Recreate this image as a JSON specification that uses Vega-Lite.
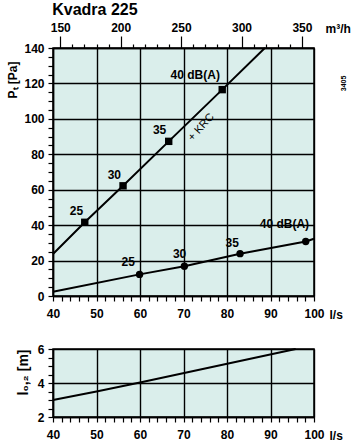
{
  "$schema": "https://vega.github.io/schema/vega-lite/v6.json",
  "padding": {"left": 6, "top": 2, "right": 0, "bottom": 0},
  "background": "white",
  "title": {"text": "Kvadra 225", "anchor": "start", "fontSize": 16, "font": "Liberation Sans", "fontWeight": "bold", "color": "black", "offset": 2, "dx": 46},
  "spacing": 21,
  "config": {
    "view": {"fill": "#daeeeb", "stroke": "black", "strokeWidth": 1.5},
    "axis": {"labelOverlap": false, "labelFont": "Liberation Sans", "labelFontWeight": "bold", "labelFontSize": 12, "labelColor": "black", "tickColor": "black", "domainColor": "black", "domainWidth": 1.5, "tickWidth": 1.2, "gridColor": "black", "gridWidth": 1.4, "titleFont": "Liberation Sans", "titleFontWeight": "bold", "titleFontSize": 12, "titleColor": "black"}
  },
  "datasets": {
    "lines": [
      {"s": "KRC", "q": 40, "p": 23.7}, {"s": "KRC", "q": 47.3, "p": 41.6}, {"s": "KRC", "q": 56.1, "p": 62.2}, {"s": "KRC", "q": 66.6, "p": 87.3}, {"s": "KRC", "q": 78.9, "p": 116.5}, {"s": "KRC", "q": 88.7, "p": 140},
      {"s": "base", "q": 40, "p": 2.4}, {"s": "base", "q": 59.9, "p": 12.2}, {"s": "base", "q": 70.2, "p": 16.8}, {"s": "base", "q": 83.0, "p": 23.9}, {"s": "base", "q": 98.1, "p": 30.8}, {"s": "base", "q": 100, "p": 32.3}
    ],
    "markers": [
      {"s": "KRC", "q": 47.3, "p": 41.6}, {"s": "KRC", "q": 56.1, "p": 62.2}, {"s": "KRC", "q": 66.6, "p": 87.3}, {"s": "KRC", "q": 78.9, "p": 116.5},
      {"s": "base", "q": 59.9, "p": 12.2}, {"s": "base", "q": 70.2, "p": 16.8}, {"s": "base", "q": 83.0, "p": 23.9}, {"s": "base", "q": 98.1, "p": 30.8}
    ],
    "labels": [
      {"label": "25", "q": 45.4, "p": 48.0}, {"label": "30", "q": 54.1, "p": 68.3}, {"label": "35", "q": 64.5, "p": 93.7}, {"label": "40 dB(A)", "q": 72.7, "p": 125.0},
      {"label": "25", "q": 57.3, "p": 19.0}, {"label": "30", "q": 69.1, "p": 23.7}, {"label": "35", "q": 81.2, "p": 29.8}, {"label": "40 dB(A)", "q": 93.2, "p": 40.5}
    ],
    "throw": [
      {"q": 40, "l": 3.0}, {"q": 50, "l": 3.5}, {"q": 60, "l": 4.03}, {"q": 95.8, "l": 6.0}
    ]
  },
  "vconcat": [
    {
      "width": 261,
      "height": 248,
      "resolve": {"scale": {"x": "independent"}, "axis": {"y": "independent"}},
      "layer": [
        {
          "data": {"name": "lines"},
          "mark": {"type": "line", "color": "black", "strokeWidth": 2},
          "encoding": {
            "x": {"field": "q", "type": "quantitative", "scale": {"domain": [40, 100], "nice": false, "zero": false},
              "axis": {"values": [40,42,44,46,48,50,52,54,56,58,60,62,64,66,68,70,72,74,76,78,80,82,84,86,88,90,92,94,96,98,100],
                "labelExpr": "datum.value % 10 === 0 ? datum.label : ''",
                "gridOpacity": {"condition": {"test": "datum.value % 10 === 0", "value": 1}, "value": 0},
                "tickSize": 5, "labelPadding": 7, "labelFlush": false,
                "title": "l/s", "titleX": 276, "titleY": 22, "titleAlign": "left", "titleBaseline": "alphabetic"}},
            "y": {"field": "p", "type": "quantitative", "scale": {"domain": [0, 140], "nice": false},
              "axis": {"values": [0,5,10,15,20,25,30,35,40,45,50,55,60,65,70,75,80,85,90,95,100,105,110,115,120,125,130,135,140],
                "labelExpr": "datum.value % 20 === 0 ? datum.label : ''",
                "gridOpacity": {"condition": {"test": "datum.value % 20 === 0", "value": 1}, "value": 0},
                "tickSize": 5, "labelPadding": 4,
                "title": "Pₜ [Pa]", "titleY": 50, "titleAlign": "left", "titlePadding": 4}},
            "detail": {"field": "s"}
          }
        },
        {
          "data": {"name": "markers"},
          "mark": {"type": "point", "filled": true, "color": "black", "opacity": 1, "size": 55},
          "encoding": {
            "x": {"field": "q", "type": "quantitative", "scale": {"domain": [40, 100], "nice": false, "zero": false}, "axis": null},
            "y": {"field": "p", "type": "quantitative", "scale": {"domain": [0, 140], "nice": false}, "axis": null},
            "shape": {"field": "s", "type": "nominal", "scale": {"domain": ["KRC", "base"], "range": ["square", "circle"]}, "legend": null}
          }
        },
        {
          "data": {"name": "labels"},
          "mark": {"type": "text", "font": "Liberation Sans", "fontWeight": "bold", "fontSize": 12, "color": "black"},
          "encoding": {
            "x": {"field": "q", "type": "quantitative", "scale": {"domain": [40, 100], "nice": false, "zero": false}, "axis": null},
            "y": {"field": "p", "type": "quantitative", "scale": {"domain": [0, 140], "nice": false}, "axis": null},
            "text": {"field": "label"}
          }
        },
        {
          "data": {"values": [{"label": "+ KRC", "q": 74.1, "p": 95.2}]},
          "mark": {"type": "text", "font": "Liberation Sans", "fontSize": 11, "angle": -48, "color": "black"},
          "encoding": {
            "x": {"field": "q", "type": "quantitative", "scale": {"domain": [40, 100], "nice": false, "zero": false}, "axis": null},
            "y": {"field": "p", "type": "quantitative", "scale": {"domain": [0, 140], "nice": false}, "axis": null},
            "text": {"field": "label"}
          }
        },
        {
          "data": {"values": [{"label": "3405", "q": 107, "p": 120}]},
          "mark": {"type": "text", "font": "Liberation Sans", "fontSize": 7, "fontWeight": "bold", "angle": -90, "color": "black"},
          "encoding": {
            "x": {"field": "q", "type": "quantitative", "scale": {"domain": [40, 100], "nice": false, "zero": false}, "axis": null},
            "y": {"field": "p", "type": "quantitative", "scale": {"domain": [0, 140], "nice": false}, "axis": null},
            "text": {"field": "label"}
          }
        },
        {
          "data": {"values": [{"m3h": 144}, {"m3h": 360}]},
          "mark": {"type": "point", "opacity": 0},
          "encoding": {
            "x": {"field": "m3h", "type": "quantitative", "scale": {"domain": [144, 360], "nice": false, "zero": false},
              "axis": {"orient": "top", "values": [150,160,170,180,190,200,210,220,230,240,250,260,270,280,290,300,310,320,330,340,350],
                "labelExpr": "datum.value % 50 === 0 ? datum.label : ''",
                "tickSize": {"condition": {"test": "datum.value % 50 === 0", "value": 12}, "value": 4},
                "grid": false, "labelPadding": 2, "labelFlush": false,
                "title": "m³/h", "titleX": 272, "titleY": -16, "titleAlign": "left", "titleBaseline": "alphabetic"}}
          }
        }
      ]
    },
    {
      "width": 261,
      "height": 68,
      "data": {"name": "throw"},
      "mark": {"type": "line", "color": "black", "strokeWidth": 2},
      "encoding": {
        "x": {"field": "q", "type": "quantitative", "scale": {"domain": [40, 100], "nice": false, "zero": false},
          "axis": {"values": [40,42,44,46,48,50,52,54,56,58,60,62,64,66,68,70,72,74,76,78,80,82,84,86,88,90,92,94,96,98,100],
            "labelExpr": "datum.value % 10 === 0 ? datum.label : ''",
            "gridOpacity": {"condition": {"test": "datum.value % 10 === 0", "value": 1}, "value": 0},
            "tickSize": 5, "labelPadding": 7, "labelFlush": false,
            "title": "l/s", "titleX": 276, "titleY": 22, "titleAlign": "left", "titleBaseline": "alphabetic"}},
        "y": {"field": "l", "type": "quantitative", "scale": {"domain": [2, 6], "nice": false, "zero": false},
          "axis": {"values": [2,2.5,3,3.5,4,4.5,5,5.5,6], "format": "~g",
            "labelExpr": "datum.value % 2 === 0 ? datum.label : ''",
            "gridOpacity": {"condition": {"test": "datum.value % 2 === 0", "value": 1}, "value": 0},
            "tickSize": 5, "labelPadding": 4,
            "title": "l₀,₂ [m]", "titleAnchor": "end", "titleFontSize": 14, "titlePadding": 7}}
      }
    }
  ]
}
